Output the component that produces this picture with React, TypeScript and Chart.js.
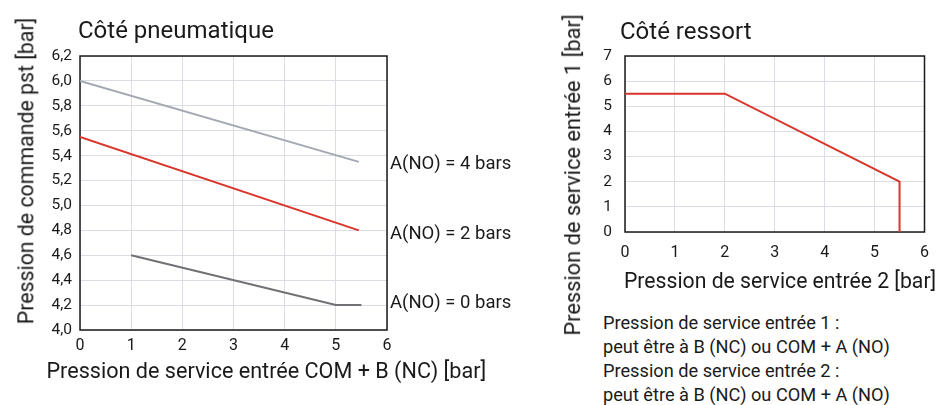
import React, { useEffect, useRef } from "react";
import { Chart, registerables } from "chart.js";

Chart.register(...registerables);

// ---------- Data: Côté pneumatique ----------
const pneuXTicks = [0, 1, 2, 3, 4, 5, 6];
const pneuYTicks = [4.0, 4.2, 4.4, 4.6, 4.8, 5.0, 5.2, 5.4, 5.6, 5.8, 6.0, 6.2];
const pneuSeriesLabels = ["A(NO) = 4 bars", "A(NO) = 2 bars", "A(NO) = 0 bars"];
const pneu4X = [0, 5.45];
const pneu4Y = [6.0, 5.35];
const pneu2X = [0, 5.45];
const pneu2Y = [5.55, 4.8];
const pneu0X = [1, 5, 5.5];
const pneu0Y = [4.6, 4.2, 4.2];

// ---------- Data: Côté ressort ----------
const ressortXTicks = [0, 1, 2, 3, 4, 5, 6];
const ressortYTicks = [0, 1, 2, 3, 4, 5, 6, 7];
const ressortX = [0, 2, 5.5, 5.5];
const ressortY = [5.5, 5.5, 2, 0];

// ---------- Texts ----------
const pneuTitle = "Côté pneumatique";
const pneuXTitle = "Pression de service entrée COM + B (NC) [bar]";
const pneuYTitle = "Pression de commande pst [bar]";
const ressortTitle = "Côté ressort";
const ressortXTitle = "Pression de service entrée 2 [bar]";
const ressortYTitle = "Pression de service entrée 1 [bar]";
const notes = [
  "Pression de service entrée 1 :",
  "peut être à B (NC) ou COM + A (NO)",
  "Pression de service entrée 2 :",
  "peut être à B (NC) ou COM + A (NO)",
];

const FONT = "Roboto";
const TEXT = "#1a1a1a";
const GRID = "#dcdde4";

const zip = (xs: number[], ys: number[]) => xs.map((x, i) => ({ x, y: ys[i] }));

const framePlugin = {
  id: "frame",
  beforeDatasetsDraw(chart: any) {
    const { ctx, chartArea: a } = chart;
    ctx.save();
    ctx.strokeStyle = TEXT;
    ctx.lineWidth = 1.5;
    ctx.strokeRect(a.left, a.top, a.right - a.left, a.bottom - a.top);
    ctx.restore();
  },
};

const endLabelPlugin = {
  id: "endLabels",
  afterDatasetsDraw(chart: any, _args: any, opts: any) {
    if (!opts || !opts.display) return;
    const { ctx, chartArea } = chart;
    ctx.save();
    ctx.font = `${opts.size}px ${FONT}`;
    ctx.fillStyle = TEXT;
    ctx.textAlign = "left";
    ctx.textBaseline = "alphabetic";
    chart.data.datasets.forEach((ds: any, i: number) => {
      const meta = chart.getDatasetMeta(i);
      const last = meta.data[meta.data.length - 1];
      if (!last) return;
      const off = (opts.offsets && opts.offsets[i]) || 0;
      ctx.fillText(ds.label, chartArea.right + opts.gap, last.y + opts.size * 0.355 + off);
    });
    ctx.restore();
  },
};

function makeScales(xTicks: number[], yTicks: number[], yFmt: (v: number) => string, yPad: number, xPad: number) {
  return {
    x: {
      type: "linear",
      min: xTicks[0],
      max: xTicks[xTicks.length - 1],
      afterBuildTicks: (s: any) => {
        s.ticks = xTicks.map((v) => ({ value: v }));
      },
      afterFit: (s: any) => {
        s.height = 30;
      },
      grid: { color: GRID, lineWidth: 1, drawTicks: false },
      border: { display: false },
      ticks: {
        color: TEXT,
        padding: xPad,
        maxRotation: 0,
        autoSkip: false,
        font: { family: FONT, size: 16 },
        callback: (v: any) => String(v),
      },
    },
    y: {
      type: "linear",
      min: yTicks[0],
      max: yTicks[yTicks.length - 1],
      afterBuildTicks: (s: any) => {
        s.ticks = yTicks.map((v) => ({ value: v }));
      },
      afterFit: (s: any) => {
        s.width = 60;
      },
      grid: { color: GRID, lineWidth: 1, drawTicks: false },
      border: { display: false },
      ticks: {
        color: TEXT,
        padding: yPad,
        autoSkip: false,
        font: { family: FONT, size: 15.5 },
        callback: (v: any) => yFmt(Number(v)),
      },
    },
  };
}

function ChartCanvas({ config, width, height, left, top }: any) {
  const ref = useRef<HTMLCanvasElement | null>(null);
  useEffect(() => {
    if (!ref.current) return;
    const chart = new Chart(ref.current, config);
    return () => chart.destroy();
  }, []);
  return (
    <canvas
      ref={ref}
      width={width}
      height={height}
      style={{ position: "absolute", left, top, width, height }}
    />
  );
}

const lineDs = (label: string, data: any[], color: string) => ({
  label,
  data,
  borderColor: color,
  backgroundColor: color,
  borderWidth: 2,
  pointRadius: 0,
  pointHoverRadius: 0,
  fill: false,
  tension: 0,
});

export default function App() {
  const pneuConfig: any = {
    type: "line",
    data: {
      datasets: [
        lineDs(pneuSeriesLabels[0], zip(pneu4X, pneu4Y), "#a4a8b2"),
        lineDs(pneuSeriesLabels[1], zip(pneu2X, pneu2Y), "#d9352a"),
        lineDs(pneuSeriesLabels[2], zip(pneu0X, pneu0Y), "#707175"),
      ],
    },
    options: {
      animation: false,
      responsive: false,
      maintainAspectRatio: false,
      events: [],
      layout: { padding: { left: 20, top: 56, right: 153, bottom: 45 } },
      plugins: {
        legend: { display: false },
        tooltip: { enabled: false },
        endLabels: { display: true, size: 18.5, gap: 3, offsets: [1, 2, -4] },
      },
      scales: makeScales(pneuXTicks, pneuYTicks, (v) => v.toFixed(1).replace(".", ","), 8, 6),
    },
    plugins: [framePlugin, endLabelPlugin],
  };

  const ressortConfig: any = {
    type: "line",
    data: {
      datasets: [lineDs("ressort", zip(ressortX, ressortY), "#d9352a")],
    },
    options: {
      animation: false,
      responsive: false,
      maintainAspectRatio: false,
      events: [],
      layout: { padding: { left: 25, top: 56, right: 9, bottom: 38 } },
      plugins: {
        legend: { display: false },
        tooltip: { enabled: false },
        endLabels: { display: false },
      },
      scales: makeScales(ressortXTicks, ressortYTicks, (v) => String(v), 13, 11),
    },
    plugins: [framePlugin, endLabelPlugin],
  };

  const txt: React.CSSProperties = {
    position: "absolute",
    whiteSpace: "nowrap",
    lineHeight: 1,
    color: TEXT,
    fontFamily: FONT,
  };
  const rot = (cx: number, cy: number, size: number): React.CSSProperties => ({
    ...txt,
    left: cx,
    top: cy,
    fontSize: size,
    transform: "translate(-50%, -50%) rotate(-90deg)",
  });

  return (
    <div
      style={{
        position: "absolute",
        left: 0,
        top: 0,
        width: 940,
        height: 405,
        background: "#fff",
        overflow: "hidden",
        fontFamily: FONT,
      }}
    >
      <ChartCanvas config={pneuConfig} width={540} height={405} left={0} top={0} />
      <ChartCanvas config={ressortConfig} width={400} height={300} left={540} top={0} />

      <div style={{ ...txt, left: 78, top: 18, fontSize: 24 }}>{pneuTitle}</div>
      <div style={{ ...txt, left: 620, top: 18.5, fontSize: 24 }}>{ressortTitle}</div>
      <div style={{ ...txt, left: 46.5, top: 360, fontSize: 21.6 }}>{pneuXTitle}</div>
      <div style={{ ...txt, left: 624, top: 269.5, fontSize: 21.2 }}>{ressortXTitle}</div>
      <div style={rot(25.5, 171, 21.3)}>{pneuYTitle}</div>
      <div style={rot(573, 175, 21.8)}>{ressortYTitle}</div>
      <div style={{ ...txt, left: 603, top: 311, fontSize: 18.2, lineHeight: "24px" }}>
        {notes.map((n, i) => (
          <div key={i}>{n}</div>
        ))}
      </div>
    </div>
  );
}
